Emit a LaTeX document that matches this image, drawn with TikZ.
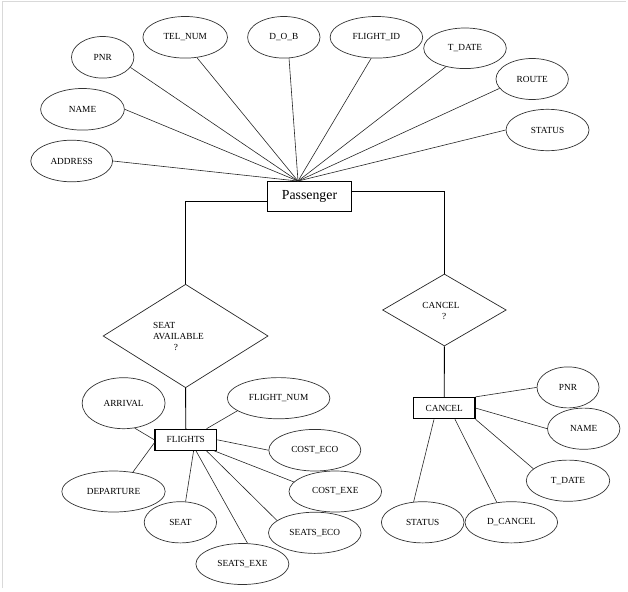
\documentclass[tikz,border=0pt]{standalone}
\usepackage{fontspec}
\setmainfont{Liberation Serif}
\usetikzlibrary{shapes.geometric}
\begin{document}
\begin{tikzpicture}[x=1pt,y=-1pt,
  attr/.style={ellipse, draw=black!80, line width=0.7pt, inner sep=0pt,
    font=\fontsize{9.3}{10}\selectfont},
  ent/.style={rectangle, draw=black, line width=1.3pt, inner sep=0pt,
    font=\fontsize{9.3}{10}\selectfont},
  rel/.style={diamond, draw=black!85, line width=0.7pt, inner sep=0pt},
  lbl/.style={inner sep=0pt, align=left, font=\fontsize{9.3}{11}\selectfont},
  conn/.style={draw=black!85, line width=0.6pt},
  link/.style={draw=black, line width=0.9pt}]
\useasboundingbox (0,0) rectangle (628,591);
\draw[black!15, line width=1pt] (2.5,588) -- (2.5,1.5) -- (626,1.5);

% Passenger entity and attributes
\node[ent, minimum width=83.7pt, minimum height=30pt, font=\fontsize{13.8}{15}\selectfont] (pass) at (309.5,196.7) {Passenger\hspace{9pt}};
\coordinate (pc) at ([xshift=-11.5pt]pass.north);

\node[attr, minimum width=62.4pt, minimum height=41.6pt] (pnr) at (102.7,57.3) {PNR};
\node[attr, minimum width=84.6pt, minimum height=41.6pt] (tel) at (185.2,37.3) {TEL\_NUM};
\node[attr, minimum width=72.4pt, minimum height=41.6pt] (dob) at (283.8,37.3) {D\_O\_B};
\node[attr, minimum width=92.6pt, minimum height=41.6pt] (fid) at (376.4,37.3) {FLIGHT\_ID};
\node[attr, minimum width=82.6pt, minimum height=40.6pt] (tdate) at (465,48.3) {T\_DATE};
\node[attr, minimum width=72.4pt, minimum height=41pt] (route) at (532.2,79) {ROUTE};
\node[attr, minimum width=83pt, minimum height=41.4pt] (status) at (547.5,130) {STATUS};
\node[attr, minimum width=83.8pt, minimum height=41.6pt] (name) at (82.5,109.3) {NAME};
\node[attr, minimum width=81.8pt, minimum height=41.6pt] (addr) at (71.7,161) {ADDRESS};

\draw[conn] (pnr.-20) -- (pc);
\draw[conn] (tel.-60) -- (pc);
\draw[conn] (dob.-76) -- (pc);
\draw[conn] (fid.-104) -- (pc);
\draw[conn] (tdate.-136) -- (pc);
\draw[conn] (route.-164) -- (pc);
\draw[conn] (status.180) -- (pc);
\draw[conn] (name.0) -- (pc);
\draw[conn] (addr.0) -- (pc);

% Relationships
\node[rel, minimum width=165pt, minimum height=103.5pt] (sa) at (185.6,336) {};
\node[lbl] (satext) at (178.5,336) {SEAT\\AVAILABLE\\\phantom{AVAI}?};
\node[rel, minimum width=123.6pt, minimum height=72pt] (cd) at (444.4,310) {};
\node[lbl] (cdtext) at (441,310.5) {CANCEL\\\phantom{CAN}?};

\draw[link] ([yshift=-5pt]pass.west) -| (sa.north);
\draw[link] ([yshift=5pt]pass.east) -| (cd.north);

% FLIGHTS entity
\node[ent, minimum width=61.6pt, minimum height=20.8pt] (fl) at (185.8,439.8) {FLIGHTS};
\draw[link] (sa.south) -- (fl.north);

\node[attr, minimum width=83pt, minimum height=51pt] (arr) at (123.6,403.2) {ARRIVAL};
\node[attr, minimum width=102.6pt, minimum height=41.2pt] (fnum) at (278.6,398.2) {FLIGHT\_NUM};
\node[attr, minimum width=92pt, minimum height=41.6pt] (ceco) at (314.8,450.2) {COST\_ECO};
\node[attr, minimum width=92.6pt, minimum height=41pt] (cexe) at (335.3,491.5) {COST\_EXE};
\node[attr, minimum width=92.6pt, minimum height=41.2pt] (seco) at (314.8,532.8) {SEATS\_ECO};
\node[attr, minimum width=93pt, minimum height=41pt] (sexe) at (242.4,564) {SEATS\_EXE};
\node[attr, minimum width=72.4pt, minimum height=41.2pt] (seat) at (180.4,522.3) {SEAT};
\node[attr, minimum width=103.4pt, minimum height=41pt] (dep) at (113.5,491.5) {DEPARTURE};

\draw[conn] (arr.-66) -- (fl.west);
\draw[conn] (dep.45) -- ([yshift=-3pt]fl.west);
\draw[conn] (fnum.-163) -- ([xshift=20.7pt]fl.north);
\draw[conn] (fl.east) -- (ceco.180);
\draw[conn] ([xshift=-3pt]fl.south east) -- (cexe.167);
\draw[conn] ([xshift=20.7pt]fl.south) -- (seco.162);
\draw[conn] ([xshift=10.2pt]fl.south) -- (sexe.76);
\draw[conn] ([xshift=7.8pt]fl.south) -- (seat.76);

% CANCEL entity
\node[ent, minimum width=61.6pt, minimum height=21.2pt] (cb) at (444.2,408.1) {CANCEL};
\draw[link] (cd.south) -- (cb.north);

\node[attr, minimum width=62pt, minimum height=41pt] (pnr2) at (568,387.4) {PNR};
\node[attr, minimum width=72.4pt, minimum height=41.2pt] (name2) at (583.7,428.7) {NAME};
\node[attr, minimum width=83.4pt, minimum height=41.2pt] (tdate2) at (568,480.7) {T\_DATE};
\node[attr, minimum width=82.6pt, minimum height=41.2pt] (status2) at (422.7,522.3) {STATUS};
\node[attr, minimum width=92.6pt, minimum height=41.2pt] (dcan) at (511.3,522.3) {D\_CANCEL};

\draw[conn] (cb.north east) -- (pnr2.180);
\draw[conn] (cb.east) -- (name2.180);
\draw[conn] (cb.south east) -- (tdate2.161);
\draw[conn] ([xshift=10.8pt]cb.south) -- (dcan.126);
\draw[conn] ([xshift=-10.2pt]cb.south) -- (status2.114);
\end{tikzpicture}
\end{document}
